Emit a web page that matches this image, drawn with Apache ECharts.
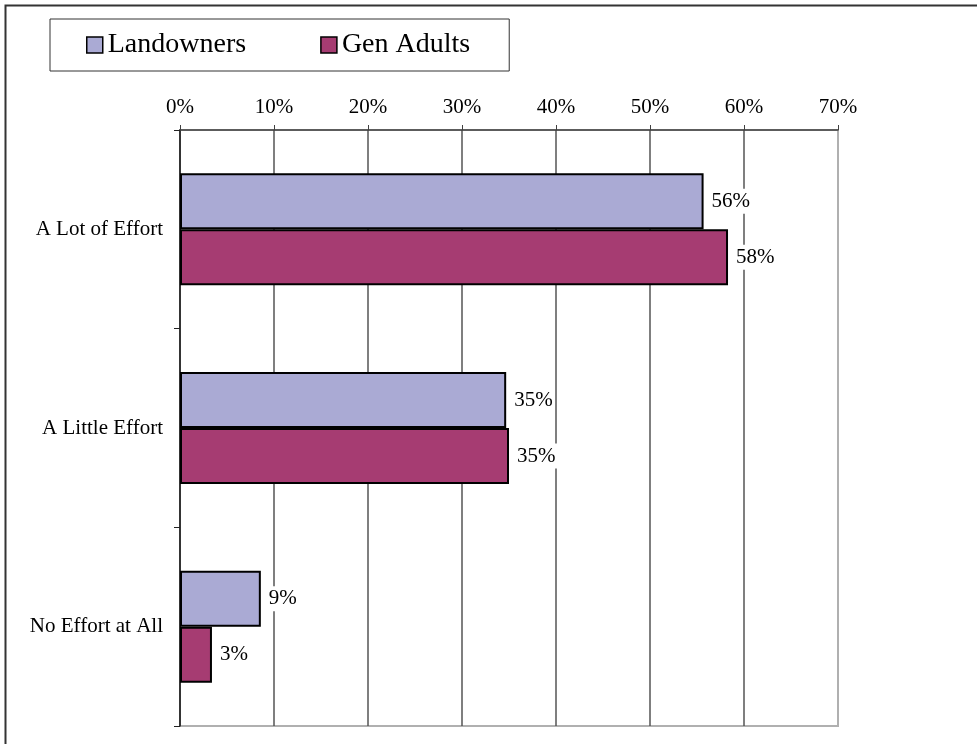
<!DOCTYPE html>
<html>
<head>
<meta charset="utf-8">
<script src="https://cdn.jsdelivr.net/npm/echarts@6/dist/echarts.min.js"></script>
<style>
html,body{margin:0;padding:0;background:#fff;}
#chart{width:977px;height:744px;}
</style>
</head>
<body>
<div id="chart"></div>
<script>
const categories = ['A Lot of Effort', 'A Little Effort', 'No Effort at All'];
const seriesNames = ['Landowners', 'Gen Adults'];
const landowners = [55.7, 34.7, 8.6];
const genAdults = [58.3, 35.0, 3.4];
const colors = ['#AAAAD4', '#A63C72'];
const FONT = '"Liberation Serif", "Times New Roman", serif';

const chart = echarts.init(document.getElementById('chart'));
function mkSeries(name, data, color) {
  return {
    name: name,
    type: 'bar',
    data: data,
    barWidth: 56,
    barGap: '0%',
    itemStyle: { color: color, borderColor: '#000', borderWidth: 2 },
    label: {
      show: true,
      position: 'right',
      distance: 6,
      fontFamily: FONT,
      fontSize: 21,
      color: '#000',
      backgroundColor: '#fff',
      padding: [2, 2],
      formatter: p => Math.round(p.value) + '%'
    },
    emphasis: { disabled: true },
    animation: false
  };
}
chart.setOption({
  animation: false,
  graphic: [{
    type: 'rect',
    shape: { x: 5.5, y: 5.5, width: 1100, height: 900 },
    style: { fill: 'none', stroke: '#333', lineWidth: 2 },
    z: -10
  }],
  legend: {
    left: 50,
    top: 19,
    padding: [12, 39, 12, 36],
    borderColor: '#333',
    borderWidth: 1,
    itemGap: 74,
    itemWidth: 16,
    itemHeight: 16,
    icon: 'rect',
    itemStyle: { borderColor: '#000', borderWidth: 1.5 },
    textStyle: { fontFamily: FONT, fontSize: 28, color: '#000', lineHeight: 28 },
    data: seriesNames
  },
  grid: {
    left: 180, top: 130, right: 139, bottom: 18,
    show: true, borderColor: '#b0b0b0', borderWidth: 2, backgroundColor: 'transparent'
  },
  xAxis: {
    type: 'value',
    position: 'top',
    min: 0, max: 70, interval: 10,
    axisLine: { show: true, lineStyle: { color: '#404040', width: 1.5 } },
    axisTick: { show: true, length: 5, lineStyle: { color: '#404040' } },
    axisLabel: { fontFamily: FONT, fontSize: 21, color: '#000', margin: 12, formatter: '{value}%' },
    splitLine: { show: true, lineStyle: { color: ['#555','#555','#555','#555','#555','#555','#555','#b0b0b0'], width: 1.5 } }
  },
  yAxis: {
    type: 'category',
    inverse: true,
    data: categories,
    axisLine: { show: true, lineStyle: { color: '#222', width: 1.5 } },
    axisTick: { show: true, length: 6, lineStyle: { color: '#222' } },
    axisLabel: { fontFamily: FONT, fontSize: 21, color: '#000', margin: 17 }
  },
  series: [
    mkSeries(seriesNames[0], landowners, colors[0]),
    mkSeries(seriesNames[1], genAdults, colors[1])
  ]
});
</script>
</body>
</html>
